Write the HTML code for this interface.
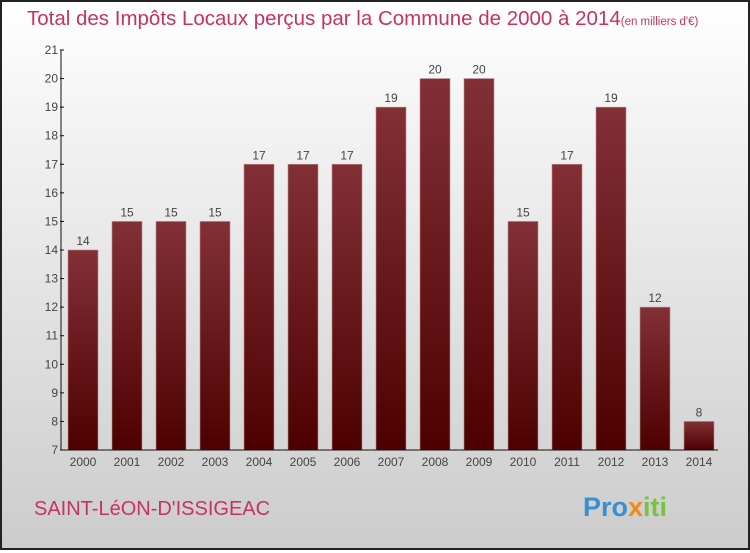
<!DOCTYPE html>
<html><head><meta charset="utf-8"><style>
html,body{margin:0;padding:0;}
body{width:750px;height:550px;overflow:hidden;font-family:"Liberation Sans",sans-serif;}
#wrap{position:absolute;left:0;top:0;width:746px;height:546px;border:2px solid #222;background:linear-gradient(#ffffff,#f4f4f4 20%,#cccccc);}
</style></head><body>
<div id="wrap">
<svg id="chart" width="746" height="546" viewBox="2 2 746 546" xmlns="http://www.w3.org/2000/svg">
<defs><linearGradient id="bg" x1="0" y1="0" x2="0" y2="1"><stop offset="0" stop-color="#823036"/><stop offset="1" stop-color="#4e0000"/></linearGradient></defs>
<text x="27" y="25" font-size="20.5" fill="#c8325f">Total des Impôts Locaux perçus par la Commune de 2000 à 2014<tspan font-size="11.5">(en milliers d'€)</tspan></text>
<g id="bars"></g>
<g id="axes"></g>
<text x="34" y="515" font-size="20" fill="#c8325f">SAINT-LéON-D'ISSIGEAC</text>
<text x="583" y="516" font-size="27" font-weight="bold" fill="#3a8fd0">Pro<tspan fill="#f08a1c">x</tspan><tspan fill="#7ac143">iti</tspan></text>
</svg></div>
<script>
const years=["2000","2001","2002","2003","2004","2005","2006","2007","2008","2009","2010","2011","2012","2013","2014"];
const values=[14,15,15,15,17,17,17,19,20,20,15,17,19,12,8];
const yTicks=[7,8,9,10,11,12,13,14,15,16,17,18,19,20,21];
const NS="http://www.w3.org/2000/svg";
const yMin=7,yMax=21,plotTop=50,plotBot=450,plotLeft=61;
const yScale=v=>plotBot-(v-yMin)/(yMax-yMin)*(plotBot-plotTop);
const xScale=i=>83+i*44;
const barsG=document.getElementById('bars'),axesG=document.getElementById('axes');
function mk(t,a,p){const e=document.createElementNS(NS,t);for(const k in a)e.setAttribute(k,a[k]);p.appendChild(e);return e;}
values.forEach((v,i)=>{
 const r=mk('rect',{x:xScale(i)-15,y:yScale(v),width:30,height:plotBot-yScale(v),fill:'url(#bg)',stroke:'#b88a8c','stroke-width':0.6},barsG);
 
 
 const t=mk('text',{x:xScale(i),y:yScale(v)-5,'font-size':12,fill:'#444','text-anchor':'middle'},barsG);
 t.textContent=v;
 
 
 const l=mk('text',{x:xScale(i),y:466,'font-size':12,fill:'#444','text-anchor':'middle'},axesG);
 l.textContent=years[i];
 
 
});
const ya=mk('line',{x1:plotLeft,y1:plotTop,x2:plotLeft,y2:plotBot,stroke:'#111','stroke-width':1},axesG);


const xa=mk('line',{x1:plotLeft,y1:plotBot,x2:718,y2:plotBot,stroke:'#111','stroke-width':1},axesG);


yTicks.forEach(v=>{
 mk('line',{x1:plotLeft-1,y1:yScale(v),x2:plotLeft+3,y2:yScale(v),stroke:'#111'},axesG);
 const t=mk('text',{x:plotLeft-3,y:yScale(v)+4,'font-size':12,fill:'#444','text-anchor':'end'},axesG);
 t.textContent=v;
 
 
});
</script>
</body></html>
